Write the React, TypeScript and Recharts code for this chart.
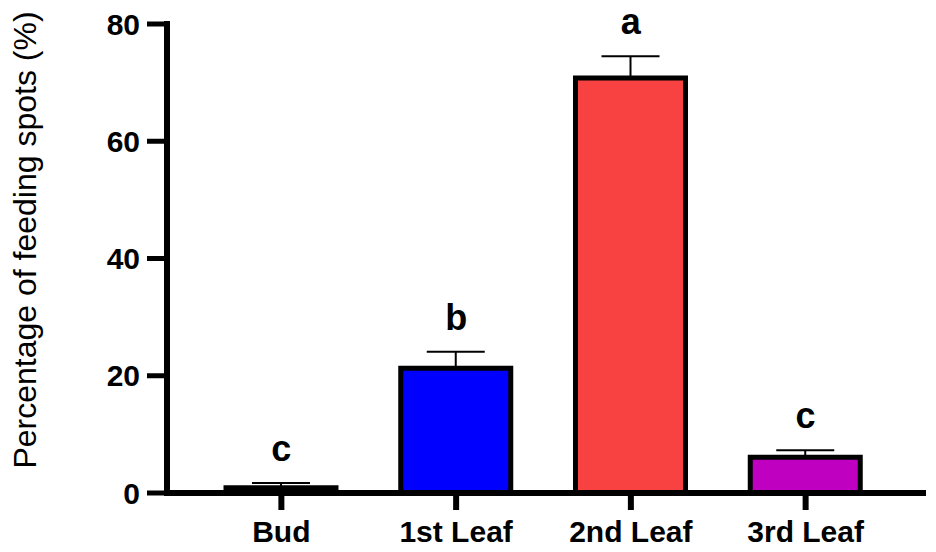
// Feeding spot distribution by leaf position, bar chart with upper error bars

import React from 'react';
import {
  ComposedChart,
  Bar,
  Cell,
  Line,
  XAxis,
  YAxis,
  ErrorBar,
  LabelList
} from 'recharts';

const categories = ['Bud', '1st Leaf', '2nd Leaf', '3rd Leaf'];
const means = [0.9, 21.3, 70.8, 6.1];
const errors = [0.8, 2.8, 3.7, 1.2];
const letters = ['c', 'b', 'a', 'c'];
const colors = ['#0000ff', '#0000ff', '#f84242', '#c000c0'];
const yTicks = [0, 20, 40, 60, 80];

const FONT = '"Liberation Sans", Arial, Helvetica, sans-serif';

const data = categories.map((name, i) => ({
  name,
  value: means[i],
  err: [0, errors[i]],
  capTop: means[i] + errors[i],
  letter: letters[i]
}));

const LetterLabel = (props: any) => {
  const { x, y, index } = props;
  return (
    <text
      x={x}
      y={y - 22}
      textAnchor="middle"
      fontFamily={FONT}
      fontWeight="bold"
      fontSize={36}
      fill="#000"
    >
      {letters[index]}
    </text>
  );
};

const YLabel = () => (
  <text
    x={36}
    y={240}
    transform="rotate(-90 36 240)"
    textAnchor="middle"
    fontFamily={FONT}
    fontSize={32}
    fill="#000"
  >
    Percentage of feeding spots (%)
  </text>
);

export default function App() {
  return (
    <div style={{ position: 'absolute', left: 0, top: 0, width: 936, height: 552, background: '#fff' }}>
      <ComposedChart
        width={936}
        height={552}
        data={data}
        margin={{ top: 24, right: 13, left: 0, bottom: 9 }}
      >
        <XAxis
          dataKey="name"
          height={50}
          padding={{ left: 27, right: 30 }}
          axisLine={{ stroke: '#000', strokeWidth: 6, strokeLinecap: 'square' }}
          tickLine={{ stroke: '#000', strokeWidth: 6 }}
          tickSize={17}
          tickMargin={11}
          tick={{ fill: '#000', fontFamily: FONT, fontWeight: 'bold', fontSize: 30 }}
        />
        <YAxis
          width={167}
          domain={[0, 80]}
          ticks={yTicks}
          axisLine={{ stroke: '#000', strokeWidth: 6, strokeLinecap: 'square' }}
          tickLine={{ stroke: '#000', strokeWidth: 5 }}
          tickSize={20}
          tickMargin={7}
          tick={{ fill: '#000', fontFamily: FONT, fontWeight: 'bold', fontSize: 30 }}
          label={<YLabel />}
        />
        <Bar dataKey="value" barSize={110} stroke="#000" strokeWidth={5} isAnimationActive={false}>
          {data.map((d, i) => (
            <Cell key={d.name} fill={colors[i]} />
          ))}
          <ErrorBar dataKey="err" direction="y" width={29} stroke="#000" strokeWidth={2} />
        </Bar>
        <Line
          dataKey="capTop"
          stroke="none"
          dot={false}
          activeDot={false}
          isAnimationActive={false}
        >
          <LabelList dataKey="letter" content={<LetterLabel />} />
        </Line>
      </ComposedChart>
    </div>
  );
}
